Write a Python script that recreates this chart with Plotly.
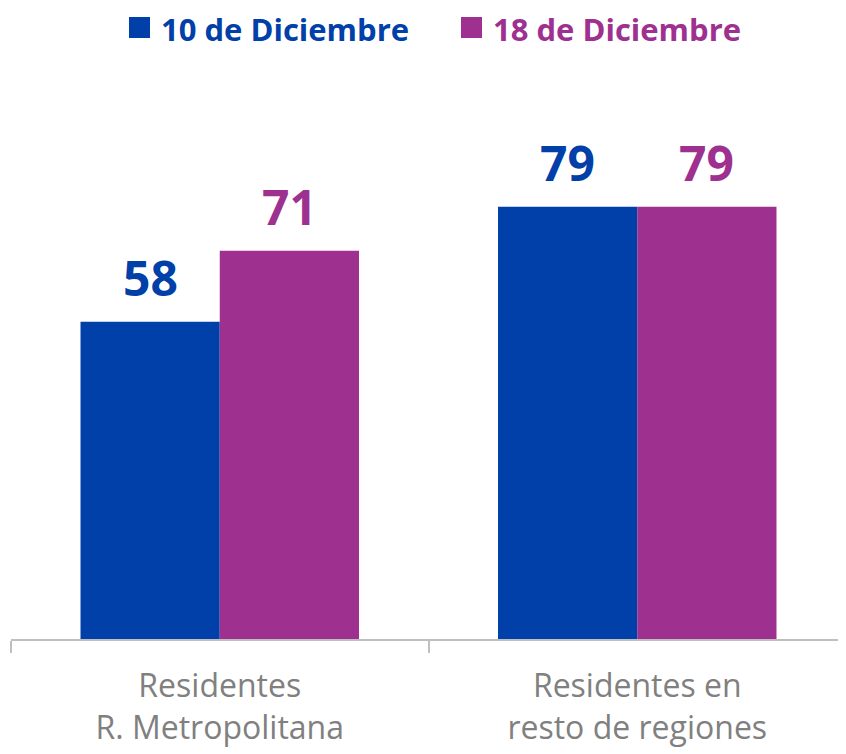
import plotly.graph_objects as go

categorias = ["Residentes<br>R. Metropolitana", "Residentes en<br>resto de regiones"]
serie_10 = [58, 79]
serie_18 = [71, 79]
nombres = ["10 de Diciembre", "18 de Diciembre"]

azul = "#0040A8"
morado = "#9E308F"
gris = "#808080"
fuente = "Open Sans"

# la página tiene 8 px de margen en el body: se compensa en los márgenes
fig = go.Figure()
series = [(nombres[0], serie_10, azul, -69.7), (nombres[1], serie_18, morado, 69.7)]
for nombre, valores, color, desplaz in series:
    fig.add_trace(go.Bar(
        x=categorias, y=valores, name=nombre,
        marker=dict(color=color, line=dict(width=0)),
        showlegend=False,
    ))
    for cat, v in zip(categorias, valores):
        fig.add_annotation(x=cat, y=v, text=str(v), showarrow=False,
                           xanchor="center", yanchor="bottom", xshift=desplaz, yshift=10,
                           font=dict(family=fuente, size=48, color=color, weight="bold"))

# leyenda dibujada a mano (cuadros de 21 px)
for x0, nombre, color in [(129, nombres[0], azul), (461, nombres[1], morado)]:
    fig.add_shape(type="rect", xref="paper", yref="paper",
                  x0=(x0 - 11) / 835, x1=(x0 + 10) / 835,
                  y0=(639 - 38) / 547, y1=(639 - 17) / 547,
                  fillcolor=color, line=dict(width=0))
    fig.add_annotation(xref="paper", yref="paper", x=(x0 + 19) / 835, y=(639 - 29) / 547,
                       xanchor="left", yanchor="middle", showarrow=False, text=nombre,
                       font=dict(family=fuente, size=31, color=color, weight="bold"))

fig.update_layout(
    width=846, height=754,
    margin=dict(l=3, r=8, t=84, b=123),
    plot_bgcolor="white", paper_bgcolor="white",
    barmode="group", bargap=0.333, bargroupgap=0,
    xaxis=dict(showline=True, linecolor="#BFBFBF", linewidth=1.5,
               ticks="outside", tickson="boundaries", ticklen=12, tickcolor="#BFBFBF",
               tickwidth=1.5, ticklabelstandoff=18,
               tickfont=dict(family=fuente, size=32, color=gris)),
    yaxis=dict(range=[0, 100], visible=False),
)

fig.write_html("out.html")
